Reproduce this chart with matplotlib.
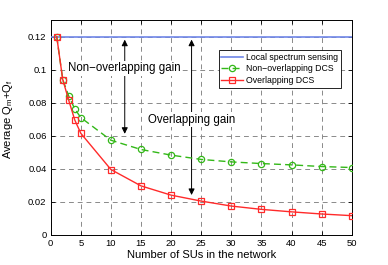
import matplotlib
matplotlib.use("Agg")
import matplotlib.pyplot as plt

plt.rcParams['font.family'] = ['Liberation Sans', 'DejaVu Sans']
plt.rcParams['mathtext.fontset'] = 'custom'
plt.rcParams['mathtext.rm'] = 'Liberation Sans'
plt.rcParams['mathtext.it'] = 'Liberation Sans'

x_local = [0, 50]
y_local = [0.12, 0.12]

x_non = [1, 2, 3, 4, 5, 10, 15, 20, 25, 30, 35, 40, 45, 50]
y_non = [0.12, 0.094, 0.084, 0.0762, 0.071, 0.0573, 0.0517, 0.0483, 0.0457, 0.0442, 0.0432, 0.0424, 0.0414, 0.0408]

x_ovl = [1, 2, 3, 4, 5, 10, 15, 20, 25, 30, 35, 40, 45, 50]
y_ovl = [0.12, 0.094, 0.0814, 0.0695, 0.0615, 0.0396, 0.0297, 0.0241, 0.0205, 0.0175, 0.0155, 0.014, 0.0127, 0.0117]

xticks = [0, 5, 10, 15, 20, 25, 30, 35, 40, 45, 50]
yticks = [0, 0.02, 0.04, 0.06, 0.08, 0.1, 0.12]
ytick_labels = ['0', '0.02', '0.04', '0.06', '0.08', '0.1', '0.12']

fig = plt.figure(figsize=(3.88, 2.65), dpi=100)
ax = fig.add_axes([50.7/388, 30/265, (351.7-50.7)/388, (235-20)/265])

ax.plot(x_local, y_local, color='#6f86e8', lw=1.2, label='Local spectrum sensing', zorder=3)
ax.plot(x_non, y_non, color='#33b818', lw=1.0, ls=(0, (5, 3)), marker='o', ms=4.5,
        mfc='none', mec='#33b818', mew=0.9, label='Non\u2212overlapping DCS', zorder=3)
ax.plot(x_ovl, y_ovl, color='#ff2a2a', lw=1.0, marker='s', ms=4,
        mfc='none', mec='#ff2a2a', mew=0.9, label='Overlapping DCS', zorder=4)

ax.set_xlim(0, 50)
ax.set_ylim(0, 0.13)
ax.set_xticks(xticks)
ax.set_yticks(yticks)
ax.set_yticklabels(ytick_labels)
ax.tick_params(direction='in', labelsize=6.8, top=True, right=True, length=3, width=0.6, pad=3)
ax.grid(True, color='#8a8a8a', ls=(0, (5, 4)), lw=0.7)
for s in ax.spines.values():
    s.set_linewidth(0.7)

ax.set_xlabel('Number of SUs in the network', fontsize=8, labelpad=1)
ax.set_ylabel('Average Q$_m$+Q$_f$', fontsize=8)
ax.yaxis.set_label_coords(-0.12, 0.54)

# arrows
ax.annotate('', xy=(12.3, 0.0595), xytext=(12.3, 0.1198),
            arrowprops=dict(arrowstyle='<|-|>', color='black', lw=0.7, mutation_scale=9), zorder=2)
ax.annotate('', xy=(23.4, 0.0225), xytext=(23.4, 0.1198),
            arrowprops=dict(arrowstyle='<|-|>', color='black', lw=0.7, mutation_scale=9), zorder=2)
ax.text(12.3, 0.1009, 'Non\u2212overlapping gain', fontsize=8.3, ha='center', va='center',
        bbox=dict(facecolor='white', edgecolor='none', pad=1), zorder=5)
ax.text(23.35, 0.0698, 'Overlapping gain', fontsize=8.3, ha='center', va='center',
        bbox=dict(facecolor='white', edgecolor='none', pad=1), zorder=5)

leg = ax.legend(loc='upper right', bbox_to_anchor=(0.963, 0.86), fontsize=6.3, frameon=True,
                fancybox=False, edgecolor='black', framealpha=1, borderpad=0.3,
                labelspacing=0.3, handlelength=2.5, handletextpad=0.3, borderaxespad=0)
leg.get_frame().set_linewidth(0.6)

fig.savefig('out.png', dpi=100)
